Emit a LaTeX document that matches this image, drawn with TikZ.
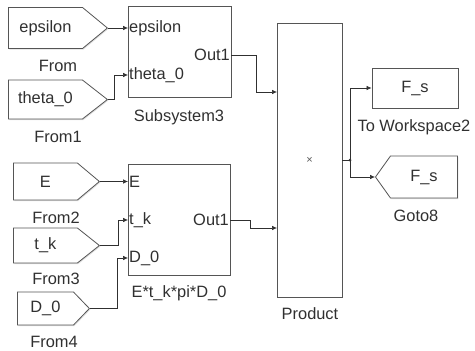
\documentclass[tikz,border=0pt]{standalone}
\usepackage{fontspec}
\setmainfont{Liberation Sans}
\usepackage{pgf,tikz}
\usetikzlibrary{shapes.symbols}
\usetikzlibrary{arrows.meta}
\usetikzlibrary{shadows}

\definecolor{blkline}{HTML}{555555}
\definecolor{wirecol}{HTML}{303030}
\definecolor{txt}{HTML}{303030}

\begin{document}
\begin{tikzpicture}[x=1pt,y=-1pt]\fontsize{16.4}{19}\selectfont
\tikzstyle{blk}=[rectangle,draw=blkline,fill=white,line width=0.8pt,inner sep=0pt,drop shadow={shadow xshift=1pt,shadow yshift=-1pt,fill=black!25}]
\tikzstyle{from}=[signal,signal to=east,draw=blkline,fill=white,line width=0.8pt,inner sep=0pt,anchor=west,text=txt,drop shadow={shadow xshift=1pt,shadow yshift=-1pt,fill=black!25}]
\tikzstyle{port}=[inner sep=1pt,text=txt]
\tikzstyle{blkname}=[anchor=base,text=txt]
\tikzstyle{sig}=[draw=wirecol,line width=0.6pt,-{Latex[length=5pt,width=4.5pt]}]

\useasboundingbox (0,0) rectangle (475,351);

% source blocks
\node[from,minimum width=99pt,minimum height=41pt,signal pointer angle=79] (from0) at (8,28) {epsilon} ;
\node[from,minimum width=99pt,minimum height=39pt,signal pointer angle=76] (from1) at (8,99.5) {theta\_0} ;
\node[from,minimum width=86pt,minimum height=37pt,signal pointer angle=80] (from2) at (13,181.5) {E} ;
\node[from,minimum width=86pt,minimum height=35pt,signal pointer angle=77] (from3) at (13,245.5) {t\_k} ;
\node[from,minimum width=72pt,minimum height=33pt,signal pointer angle=92] (from4) at (17,308.5) {D\_0} ;

\node[blkname] (n-from0) at (58,71) {From} ;
\node[blkname] (n-from1) at (58,142) {From1} ;
\node[blkname] (n-from2) at (56,223) {From2} ;
\node[blkname] (n-from3) at (56,284) {From3} ;
\node[blkname] (n-from4) at (54,347) {From4} ;

% subsystems
\node[blk,minimum width=103pt,minimum height=91pt] (sub3) at (179.5,51.5) {} ;
\node[port,anchor=west] (p-eps) at (128,28) {epsilon} ;
\node[port,anchor=west] (p-th) at (128,75) {theta\_0} ;
\node[port,anchor=east] (p-out1) at (231,55) {Out1} ;
\node[blkname] (n-sub3) at (179,121) {Subsystem3} ;

\node[blk,minimum width=102pt,minimum height=111pt] (sub4) at (179,219.5) {} ;
\node[port,anchor=west] (p-E) at (128,181.5) {E} ;
\node[port,anchor=west] (p-tk) at (128,220) {t\_k} ;
\node[port,anchor=west] (p-D) at (128,258) {D\_0} ;
\node[port,anchor=east] (p-out2) at (230,220) {Out1} ;
\node[blkname] (n-sub4) at (179,297) {E*t\_k*pi*D\_0} ;

% product and sinks
\node[blk,minimum width=65pt,minimum height=274pt,text=txt!80,font=\fontsize{11}{12}\selectfont] (prod) at (309.5,160) {×} ;
\coordinate (prod-in1) at (277,92) ;
\coordinate (prod-in2) at (277,228) ;
\node[blkname] (n-prod) at (310,319) {Product} ;

\node[blk,minimum width=86pt,minimum height=40pt,text=txt] (ws) at (415,88) {F\_s} ;
\node[blkname] (n-ws) at (414,131) {To Workspace2} ;
\node[from,signal to=west,minimum width=82pt,minimum height=42pt,signal pointer angle=109] (goto) at (375,177) {F\_s} ;
\node[blkname] (n-goto) at (416,221) {Goto8} ;

% wires
\draw[sig] (from0.east) -- (p-eps.west) ;
\draw[sig] (from1.east) -- ++(6,0) |- (p-th.west) ;
\draw[sig] (from2.east) -- (p-E.west) ;
\draw[sig] (from3.east) -- ++(18,0) |- (p-tk.west) ;
\draw[sig] (from4.east) -- ++(27,0) |- (p-D.west) ;
\draw[sig] (p-out1.east) -- ++(25,0) |- (prod-in1) ;
\draw[sig] (p-out2.east) -- ++(20,0) |- (prod-in2) ;
\coordinate (junc) at (350,160) ;
\draw[draw=wirecol,line width=0.6pt] (prod.east) -- (junc) ;
\fill[wirecol] (junc) circle (1.5) ;
\draw[sig] (junc) |- (ws.west) ;
\draw[sig] (junc) |- (goto.west) ;

\end{tikzpicture}
\end{document}
